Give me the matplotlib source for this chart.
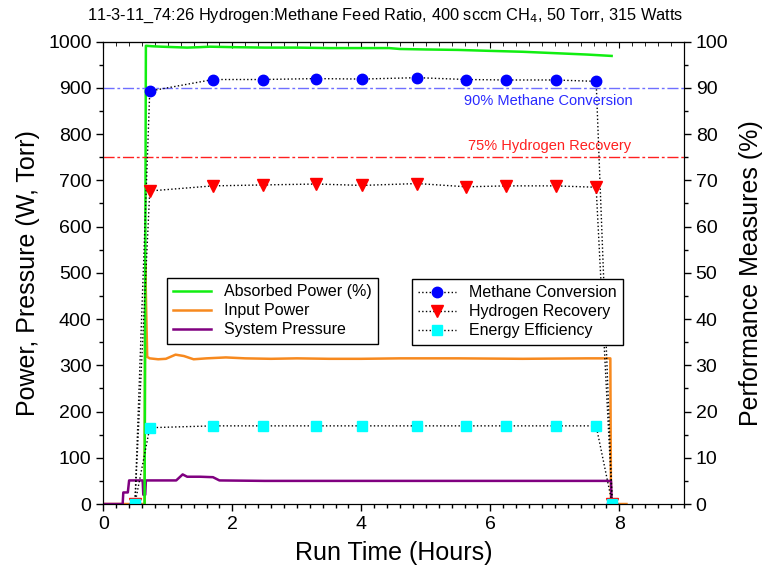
import numpy as np
import matplotlib
matplotlib.use("Agg")
import matplotlib.pyplot as plt
from matplotlib.ticker import MultipleLocator

plt.rcParams['font.family'] = ['Liberation Sans', 'DejaVu Sans']

# Discrete measurements (right axis, %)
t_meas = [0.49, 0.72, 1.70, 2.47, 3.30, 4.01, 4.87, 5.63, 6.24, 7.01, 7.64, 7.89]
methane_conv = [0, 89.3, 91.8, 91.8, 92.0, 91.9, 92.2, 91.8, 91.7, 91.7, 91.4, 0]
hydrogen_rec = [0, 67.7, 68.8, 69.0, 69.2, 68.9, 69.3, 68.6, 68.8, 68.8, 68.5, 0]
energy_eff = [0, 16.5, 16.9, 16.9, 16.9, 16.9, 16.9, 16.9, 16.9, 16.9, 16.9, 0]

# Absorbed power (%), right axis
t_abs = [0.64, 0.66, 0.75, 0.9, 1.1, 1.3, 1.5, 1.65, 2.0, 2.5, 3.0, 3.5, 4.0, 4.43, 4.6, 5.0, 5.5, 5.98, 6.5, 7.0, 7.5, 7.88]
absorbed = [0, 99.1, 99.0, 98.9, 98.8, 98.7, 98.8, 98.9, 98.8, 98.7, 98.7, 98.6, 98.6, 98.6, 98.4, 98.3, 98.2, 98.0, 97.8, 97.5, 97.2, 96.9]

# Input power (W), left axis
t_in = [0, 0.64, 0.65, 0.68, 0.72, 0.85, 0.97, 1.12, 1.25, 1.4, 1.6, 1.9, 2.2, 2.6, 3.0, 3.5, 4.0, 4.6, 5.5, 6.5, 7.5, 7.86, 7.87, 8.11]
input_power = [0, 0, 521, 318, 315, 313, 314, 323, 320, 313, 315, 317, 315, 314, 315, 314, 314, 315, 315, 314, 315, 315, 0, 0]

# System pressure (Torr), left axis
t_p = [0, 0.30, 0.31, 0.38, 0.40, 0.61, 0.62, 0.65, 0.66, 1.13, 1.23, 1.30, 1.50, 1.70, 1.80, 2.5, 3.5, 4.5, 5.5, 6.5, 7.5, 7.87, 7.88]
pressure = [0, 0, 25, 25, 51, 51, 20, 20, 51, 51, 64, 59, 59, 58, 51, 50, 50, 50, 50, 50, 50, 50, 0]

fig = plt.figure(figsize=(7.71, 5.73), dpi=100)
ax = fig.add_axes([0.134, 0.1204, 0.753, 0.807])
ax2 = ax.twinx()

ax.set_xlim(0, 9)
ax.set_ylim(0, 1000)
ax2.set_ylim(0, 100)

l_in, = ax.plot(t_in, input_power, color='#f7891e', lw=1.8)
l_p, = ax.plot(t_p, pressure, color='#800080', lw=1.8)
l_abs, = ax2.plot(t_abs, absorbed, color='#11ee11', lw=1.8)

ax2.axhline(90, color='#6f6fff', lw=1, dashes=(8, 2, 2, 2))
ax2.axhline(75, color='#ff2020', lw=1, dashes=(8, 2, 2, 2))
ax2.text(8.2, 87.1, '90% Methane Conversion', color='#2a2aff', fontsize=10.5,
         ha='right', va='center')
ax2.text(8.18, 77.4, '75% Hydrogen Recovery', color='#ff2020', fontsize=10.5,
         ha='right', va='center')

dot = dict(color='black', ls=':', lw=1)
m1, = ax2.plot(t_meas, methane_conv, marker='o', ms=7.5, mfc='#0000ff', mec='#0000ff', **dot)
m2, = ax2.plot(t_meas, hydrogen_rec, marker='v', ms=8.5, mfc='#ff0000', mec='#ff0000', **dot)
m3, = ax2.plot(t_meas, energy_eff, marker='s', ms=7, mfc='#00ffff', mec='#00ffff', **dot)

# ticks
ax.xaxis.set_major_locator(MultipleLocator(2))
ax.xaxis.set_minor_locator(MultipleLocator(0.2))
ax.yaxis.set_major_locator(MultipleLocator(100))
ax.yaxis.set_minor_locator(MultipleLocator(50))
ax2.yaxis.set_major_locator(MultipleLocator(10))
ax2.yaxis.set_minor_locator(MultipleLocator(5))
for a in (ax, ax2):
    a.tick_params(which='major', direction='out', length=5, width=1, labelsize=14)
    a.tick_params(which='minor', direction='out', length=3, width=1)
top = ax.secondary_xaxis('top')
top.xaxis.set_major_locator(MultipleLocator(2))
top.xaxis.set_minor_locator(MultipleLocator(0.2))
top.tick_params(which='both', direction='in', labeltop=False, length=4)
top.tick_params(which='minor', length=3)

ax.set_xlabel('Run Time (Hours)', fontsize=18, labelpad=6)
ax.set_ylabel('Power, Pressure (W, Torr)', fontsize=18, labelpad=6)
ax2.set_ylabel('Performance Measures (%)', fontsize=18, labelpad=8)
fig.suptitle('11-3-11_74:26 Hydrogen:Methane Feed Ratio, 400 sccm CH$_4$, 50 Torr, 315 Watts',
             fontsize=11.8, y=0.988)

leg_kw = dict(loc='upper left', fontsize=11.5, frameon=True, fancybox=False,
              edgecolor='black', framealpha=1, handlelength=2.4, labelspacing=0.25,
              borderaxespad=0, numpoints=1, bbox_transform=fig.transFigure)
leg1 = ax2.legend([l_abs, l_in, l_p], ['Absorbed Power (%)', 'Input Power', 'System Pressure'],
                  bbox_to_anchor=(0.216, 0.515), **leg_kw)
leg1.get_frame().set_linewidth(1)
ax2.add_artist(leg1)
leg2 = ax2.legend([m1, m2, m3], ['Methane Conversion', 'Hydrogen Recovery', 'Energy Efficiency'],
                  bbox_to_anchor=(0.534, 0.513), **leg_kw)
leg2.get_frame().set_linewidth(1)

fig.savefig('out.png', dpi=100)
